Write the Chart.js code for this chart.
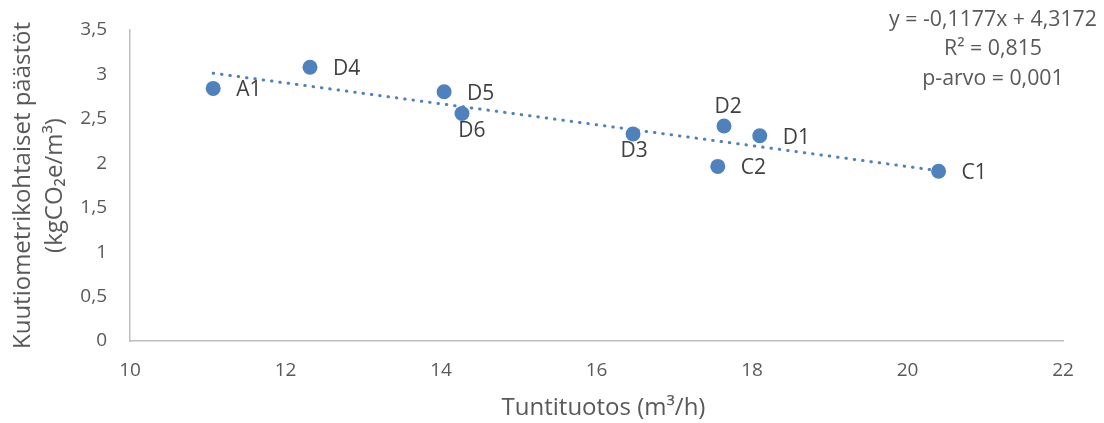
<!DOCTYPE html>
<html>
<head>
<meta charset="utf-8">
<script src="https://cdn.jsdelivr.net/npm/chart.js@4/dist/chart.umd.min.js"></script>
<style>
  html, body { margin: 0; padding: 0; background: #ffffff; }
  #wrap { width: 1104px; height: 423px; position: relative; }
</style>
</head>
<body>
<div id="wrap"><canvas id="chart" width="1104" height="423"></canvas></div>
<script>
// Sites and their measured values
const siteNames      = ['A1', 'D4', 'D5', 'D6', 'D3', 'D2', 'D1', 'C2', 'C1'];
const hourlyOutput   = [11.07, 12.315, 14.04, 14.27, 16.47, 17.64, 18.10, 17.56, 20.40]; // m3/h
const emissionsPerM3 = [2.843, 3.08, 2.805, 2.56, 2.33, 2.42, 2.31, 1.965, 1.91];       // kgCO2e/m3

// Linear trend line end points (y = -0,1177x + 4,3172)
const trendX = [11.07, 20.40];
const trendY = [3.014, 1.916];

// Axis ticks
const xTickValues = [10, 12, 14, 16, 18, 20, 22];
const xTickLabels = ['10', '12', '14', '16', '18', '20', '22'];
const yTickValues = [0, 0.5, 1, 1.5, 2, 2.5, 3, 3.5];
const yTickLabels = ['0', '0,5', '1', '1,5', '2', '2,5', '3', '3,5'];

// Titles and regression summary
const xTitle = 'Tuntituotos (m³/h)';
const yTitle = ['Kuutiometrikohtaiset päästöt', '(kgCO₂e/m³)'];
const regressionText = ['y = -0,1177x + 4,3172', 'R² = 0,815', 'p-arvo = 0,001'];

// Where each site label sits relative to its marker
const labelPlacement = { D6: 'below', D3: 'below', D2: 'above' };

const FONT = '"Open Sans", Lato, sans-serif';
const BLUE = '#4F81BD';
const GREY_TEXT = '#595959';
const AXIS_GREY = '#BFBFBF';

const points = siteNames.map((n, i) => ({ x: hourlyOutput[i], y: emissionsPerM3[i] }));
const trend = trendX.map((x, i) => ({ x, y: trendY[i] }));

const labelPlugin = {
  id: 'siteLabels',
  afterDatasetsDraw(chart) {
    const ctx = chart.ctx;
    const meta = chart.getDatasetMeta(1);
    ctx.save();
    ctx.font = '21px ' + FONT;
    ctx.fillStyle = '#404040';
    ctx.textBaseline = 'middle';
    meta.data.forEach((el, i) => {
      const name = siteNames[i];
      const place = labelPlacement[name] || 'right';
      if (place === 'right') {
        ctx.textAlign = 'left';
        ctx.fillText(name, el.x + 23, el.y + 2);
      } else if (place === 'below') {
        ctx.textAlign = 'center';
        ctx.fillText(name, el.x + (name === 'D6' ? 10 : 1), el.y + 17);
      } else {
        ctx.textAlign = 'center';
        ctx.fillText(name, el.x + 4, el.y - 19);
      }
    });
    // regression summary, top right
    ctx.font = '21.3px ' + FONT;
    ctx.fillStyle = GREY_TEXT;
    ctx.textAlign = 'center';
    regressionText.forEach((t, i) => ctx.fillText(t, 993, 19.5 + i * 29.5));
    // x axis title, a little right of the plot centre
    const area = chart.chartArea;
    ctx.font = '24px ' + FONT;
    ctx.fillText(xTitle, (area.left + area.right) / 2 + 7, 408);
    ctx.restore();
  }
};

new Chart(document.getElementById('chart'), {
  type: 'scatter',
  data: {
    datasets: [
      {
        type: 'line',
        data: trend,
        borderColor: BLUE,
        borderWidth: 3,
        borderDash: [0.5, 7.9],
        borderCapStyle: 'round',
        pointRadius: 0,
        fill: false,
        order: 0
      },
      {
        data: points,
        backgroundColor: BLUE,
        borderColor: BLUE,
        borderWidth: 0,
        pointRadius: 7.5,
        pointHoverRadius: 7.5,
        order: 1
      }
    ]
  },
  options: {
    responsive: false,
    devicePixelRatio: 1,
    animation: false,
    events: [],
    layout: { padding: { top: 30, right: 41, left: 0, bottom: 0 } },
    plugins: { legend: { display: false }, tooltip: { enabled: false } },
    scales: {
      x: {
        type: 'linear',
        min: 10, max: 22,
        afterFit(s) { s.height = 82; },
        afterBuildTicks(s) { s.ticks = xTickValues.map(v => ({ value: v })); },
        grid: { display: false, drawTicks: false },
        border: { display: true, color: AXIS_GREY, width: 1.5 },
        ticks: {
          color: GREY_TEXT,
          font: { family: FONT, size: 19, lineHeight: 1.2 },
          padding: 18.5,
          callback: v => xTickLabels[xTickValues.indexOf(v)]
        },
        title: { display: false }
      },
      y: {
        type: 'linear',
        min: 0, max: 3.5,
        afterFit(s) {
          s.width = 130;
          // the layout padding already leaves room for the top label
          s.paddingTop = 0;
          s.paddingBottom = 0;
        },
        afterBuildTicks(s) { s.ticks = yTickValues.map(v => ({ value: v })); },
        grid: { display: false, drawTicks: false },
        border: { display: true, color: AXIS_GREY, width: 1.5 },
        ticks: {
          color: GREY_TEXT,
          font: { family: FONT, size: 19, lineHeight: 1.2 },
          padding: 23,
          callback: v => yTickLabels[yTickValues.indexOf(v)]
        },
        title: {
          display: true,
          text: yTitle,
          color: GREY_TEXT,
          font: { family: FONT, size: 24, lineHeight: 1.333 },
          padding: { top: 7, bottom: 0 }
        }
      }
    }
  },
  plugins: [labelPlugin]
});
</script>
</body>
</html>
